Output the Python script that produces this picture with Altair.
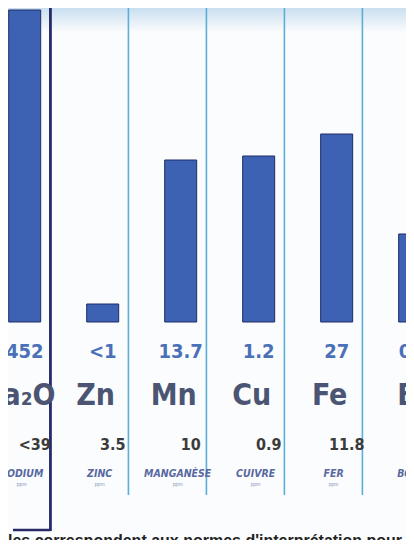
import altair as alt
import pandas as pd

# ---- data ----
elements = ["Na₂O", "Zn", "Mn", "Cu", "Fe", "B"]
measured = ["452", "<1", "13.7", "1.2", "27", "0.5"]
norms = ["<39", "3.5", "10", "0.9", "11.8", ""]
names = ["SODIUM", "ZINC", "MANGANÈSE", "CUIVRE", "FER", "BORE"]
units = ["ppm", "ppm", "ppm", "ppm", "ppm", "ppm"]
bar_level = [156, 9, 81, 83, 94, 44]   # relative bar height (picture units)
footnote = "les correspondent aux normes d'interprétation pour le"

W, H = 398, 532
X0 = -0.15
df = pd.DataFrame({
    "i": list(range(len(elements))),
    "el": elements, "val": measured, "norm": norms,
    "name": names, "unit": units, "level": bar_level,
})
seps = pd.DataFrame({"s": [i + 0.33 for i in range(len(elements) - 1)]})
seps["first"] = seps.index == 0

xs = alt.Scale(domain=[X0, X0 + W / 80], nice=False, zero=False)
# baseline of bars at 314 px from top, 2 px per unit
ys = alt.Scale(domain=[-(H - 314) / 2, 314 / 2], nice=False, zero=False)
X = alt.X("i:Q", scale=xs, axis=None)
COND = "DejaVu Sans Condensed, Liberation Sans, sans-serif"

base = alt.Chart(df)

top_band = alt.Chart(pd.DataFrame({"a": [0]})).mark_rect(
    fill=alt.Gradient(gradient="linear", x1=0, y1=0, x2=0, y2=1,
                      stops=[alt.GradientStop(color="#c9dff0", offset=0),
                             alt.GradientStop(color="#fbfcfd", offset=1)])
).encode(x=alt.value(0), x2=alt.value(W), y=alt.value(0), y2=alt.value(24))

bars = base.mark_bar(size=32, color="#3d62b3", stroke="#1f2d66",
                     strokeWidth=1, clip=True).encode(
    x=X, y=alt.Y("level:Q", scale=ys, axis=None), y2=alt.Y2("zero:Q")
).transform_calculate(zero="0")

sep_light = alt.Chart(seps).transform_filter("!datum.first").mark_rule(
    color="#5aaed8", strokeWidth=1.6).encode(
    x=alt.X("s:Q", scale=xs, axis=None), y=alt.value(0), y2=alt.value(487))
sep_dark = alt.Chart(seps).transform_filter("datum.first").mark_rule(
    color="#262a68", strokeWidth=2.8).encode(
    x=alt.X("s:Q", scale=xs, axis=None), y=alt.value(0), y2=alt.value(523))
box_bottom = alt.Chart(seps).transform_filter("datum.first").transform_calculate(
    start=str(X0)).mark_rule(color="#262a68", strokeWidth=2.5).encode(
    x=alt.X("start:Q", scale=xs, axis=None), x2=alt.X2("s:Q"), y=alt.value(522))

val_txt = base.mark_text(font=COND, fontWeight="bold", fontSize=20,
                         color="#4a70b8", clip=True).encode(
    x=X, y=alt.value(344), text="val:N")
sym_txt = base.mark_text(font=COND, fontWeight="bold",
                         fontSize=30, color="#4b5573", dx=-7, clip=True).encode(
    x=X, y=alt.value(388), text="el:N")
norm_txt = base.mark_text(font=COND, fontWeight="bold", fontSize=16,
                          color="#3b3b3b", dx=10, clip=True).encode(
    x=X, y=alt.value(437), text="norm:N")
name_txt = base.mark_text(font=COND, fontWeight="bold",
                          fontStyle="italic", fontSize=10.5, color="#5868a0",
                          dx=-3, clip=True).encode(
    x=X, y=alt.value(466), text="name:N")
unit_txt = base.mark_text(font="Liberation Sans", fontSize=5, color="#8a95bb",
                          dx=-3, clip=True).encode(
    x=X, y=alt.value(476), text="unit:N")

foot = alt.Chart(pd.DataFrame({"t": [footnote]})).mark_text(
    font="Liberation Sans", fontWeight="bold", fontSize=16, color="#222222",
    align="left", baseline="top", clip=True).encode(
    x=alt.value(0), y=alt.value(525), text="t:N")

chart = alt.layer(top_band, sep_light, sep_dark, box_bottom, bars, val_txt,
                  sym_txt, norm_txt, name_txt, unit_txt, foot).properties(
    width=W, height=H, padding=0, background="#fbfcfd",
    autosize=alt.AutoSizeParams(type="none")
).configure_view(stroke=None)

chart.save("out.html", embed_options={"renderer": "svg", "actions": False})
